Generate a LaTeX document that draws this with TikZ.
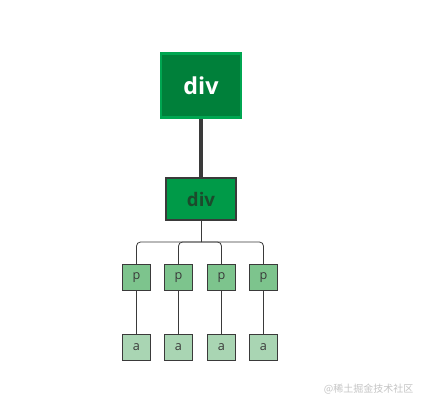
\documentclass[tikz,border=0pt]{standalone}
\usepackage{fontspec}
\setmainfont{Open Sans}
\newfontfamily\cjk{Noto Sans CJK SC}
\definecolor{topfill}{HTML}{00803A}
\definecolor{topborder}{HTML}{00A651}
\definecolor{midfill}{HTML}{009A48}
\definecolor{midtext}{HTML}{1C4A2C}
\definecolor{pfill}{HTML}{7DC48D}
\definecolor{afill}{HTML}{A9D5B3}
\definecolor{edge}{HTML}{3A3A3A}
\definecolor{wmgray}{HTML}{C4C4C4}
\begin{document}
\begin{tikzpicture}[x=0.75pt,y=-0.75pt,
  topbox/.style={draw=topborder,fill=topfill,line width=2.2pt,minimum width=60pt,minimum height=47.5pt,inner sep=0pt,text=white,font=\bfseries\fontsize{17.5}{19}\selectfont},
  midbox/.style={draw=edge,fill=midfill,line width=1.3pt,minimum width=52pt,minimum height=32pt,inner sep=0pt,text=midtext,font=\bfseries\fontsize{14}{16}\selectfont},
  pbox/.style={draw=edge,fill=pfill,line width=0.6pt,minimum width=21.5pt,minimum height=19.5pt,inner sep=0pt,text=edge,font=\fontsize{9.5}{11}\selectfont},
  abox/.style={pbox,fill=afill},
  thick line/.style={draw=edge,line width=2.4pt},
  thin line/.style={draw=edge,line width=0.6pt},
]
\useasboundingbox (0,0) rectangle (429,407);
\node[topbox] (top) at (201,85.5) {div};
\node[midbox] (mid) at (201,199) {div};
\coordinate (bus) at (201,242);
\foreach \i/\x in {1/136.5,2/178.5,3/221.5,4/263.5}{
  \node[pbox] (p\i) at (\x,277.5) {p};
  \node[abox] (a\i) at (\x,347.5) {a};
}
\draw[thick line] (top.south) -- (mid.north);
\draw[thin line] (mid.south) -- (bus);
\foreach \i in {1,...,4}{
  \draw[thin line,rounded corners=3pt] (bus) -| (p\i.north);
  \draw[thin line] (p\i.south) -- (a\i.north);
}
\node[text=wmgray,font=\cjk\fontsize{7.5}{9}\selectfont,anchor=east] (wm) at (418,389) {@稀土掘金技术社区};
\end{tikzpicture}
\end{document}
